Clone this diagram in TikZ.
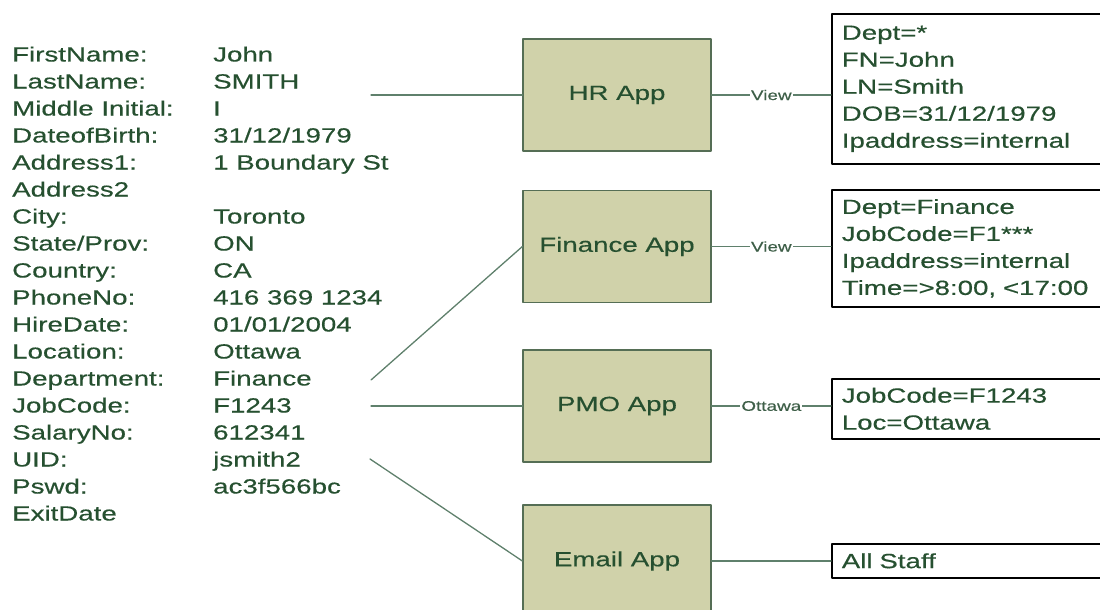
\documentclass[tikz,border=0pt]{standalone}
\usepackage{fontspec}
\setmainfont[FakeStretch=1.35,FakeBold=0.4]{Liberation Sans}
\usetikzlibrary{positioning}
\definecolor{txtgreen}{RGB}{38,80,48}
\definecolor{appfill}{RGB}{208,210,170}
\definecolor{appline}{RGB}{85,110,85}
\definecolor{linkline}{RGB}{95,128,108}
\definecolor{taggreen}{RGB}{62,95,72}

\tikzset{
  field/.style={anchor=base west, inner sep=0pt, text=txtgreen, font=\fontsize{20.5}{27}\selectfont},
  app/.style={draw=appline, line width=1.2pt, fill=appfill, minimum width=188pt, minimum height=112pt,
    text=txtgreen, font=\fontsize{20.5}{27}\selectfont},
  rulebox/.style={draw=black, line width=1.6pt, fill=white, anchor=north west, minimum width=275pt,
    inner xsep=10pt, inner ysep=0pt, text width=255pt, align=left, text=txtgreen, font=\fontsize{20.5}{27}\selectfont},
  link/.style={draw=linkline, line width=1.3pt},
  tag/.style={fill=white, inner sep=1pt, text=taggreen, font=\fontsize{14}{15}\selectfont}
}

\begin{document}
\begin{tikzpicture}[line cap=round,line join=round,x=1pt,y=-1pt]
  \path[use as bounding box, clip] (0,0) rectangle (1100,610);

  \foreach \lab/\val [count=\i] in {
      {FirstName:}/{John},
      {LastName:}/{SMITH},
      {Middle Initial:}/{I},
      {DateofBirth:}/{31/12/1979},
      {Address1:}/{1 Boundary St},
      {Address2}/{},
      {City:}/{Toronto},
      {State/Prov:}/{ON},
      {Country:}/{CA},
      {PhoneNo:}/{416 369 1234},
      {HireDate:}/{01/01/2004},
      {Location:}/{Ottawa},
      {Department:}/{Finance},
      {JobCode:}/{F1243},
      {SalaryNo:}/{612341},
      {UID:}/{jsmith2},
      {Pswd:}/{ac3f566bc},
      {ExitDate}/{}}{
    \node[field] (lab\i) at (12, 34.5+27*\i) {\lab};
    \node[field] (val\i) at (213, 34.5+27*\i) {\val};
  }

  \node[app] (hr) at (617,95) {HR App};
  \node[app] (fin) at (617,246.5) {Finance App};
  \node[app] (pmo) at (617,406) {PMO App};
  \node[app] (mail) at (617,561) {Email App};

  \node[rulebox, minimum height=150pt] (hrview) at (831,13)
    {Dept=*\\FN=John\\LN=Smith\\DOB=31/12/1979\\Ipaddress=internal};
  \node[rulebox, minimum height=117pt] (finview) at (831,189)
    {Dept=Finance\\JobCode=F1***\\Ipaddress=internal\\Time=>8:00, <17:00};
  \node[rulebox, minimum height=60pt] (pmoview) at (831,378)
    {JobCode=F1243\\Loc=Ottawa};
  \node[rulebox, minimum height=34pt] (mailview) at (831,543)
    {All Staff};

  \coordinate (hrsrc) at (371,95);
  \coordinate (finsrc) at (371,380);
  \coordinate (pmosrc) at (371,406);
  \coordinate (mailsrc) at (370,459);

  \draw[link] (hrsrc) -- (hr.west);
  \draw[link] (finsrc) -- (fin.west);
  \draw[link] (pmosrc) -- (pmo.west);
  \draw[link] (mailsrc) -- (mail.west);

  \draw[link] (hr.east) -- node[tag] {View} (hr.east -| hrview.west);
  \draw[link] (fin.east) -- node[tag] {View} (fin.east -| finview.west);
  \draw[link] (pmo.east) -- node[tag] {Ottawa} (pmo.east -| pmoview.west);
  \draw[link] (mail.east) -- (mail.east -| mailview.west);
\end{tikzpicture}
\end{document}
